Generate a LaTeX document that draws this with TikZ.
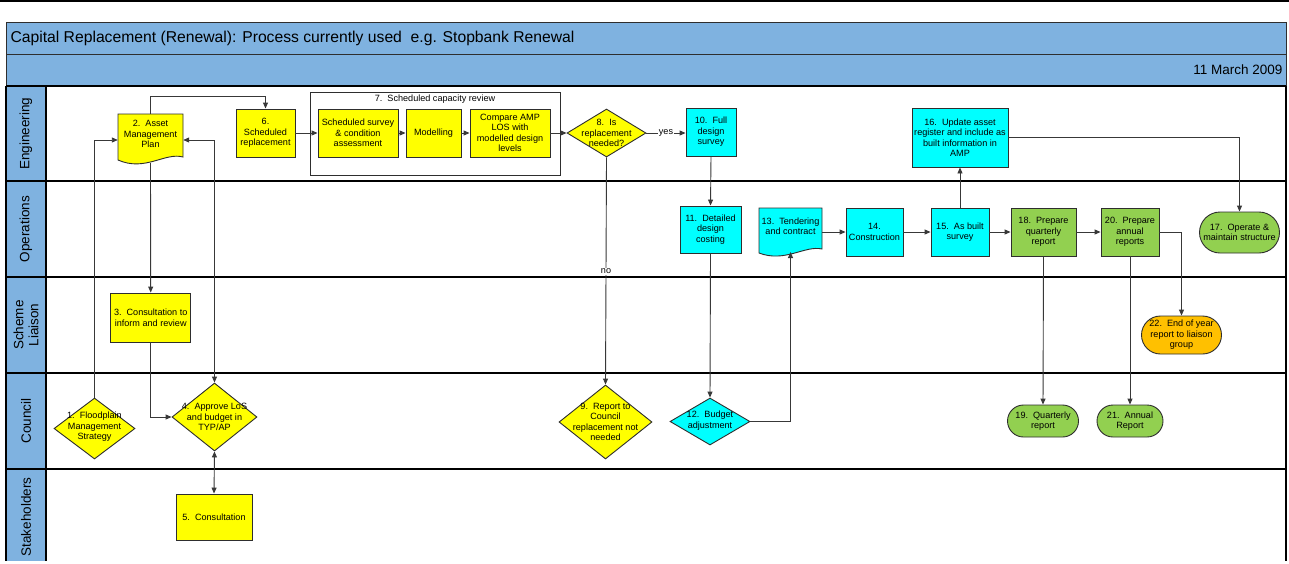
\documentclass[tikz,border=0pt]{standalone}
\usepackage{fontspec}
\setmainfont{Liberation Sans}
\usetikzlibrary{shapes.geometric,shapes.misc,arrows.meta}
\definecolor{band}{HTML}{7FB2E0}
\definecolor{yel}{HTML}{FFFF00}
\definecolor{cya}{HTML}{00FFFF}
\definecolor{grn}{HTML}{92D050}
\definecolor{org}{HTML}{FFC000}
\definecolor{edgec}{HTML}{2E2E2E}
\definecolor{linkc}{HTML}{383838}
\tikzset{
  x=1pt, y=-1pt,
  >={Triangle[length=6pt,width=5pt]},
  nodefont/.style={font=\fontsize{9.1}{10.5}\selectfont},
  box/.style={rectangle, draw=edgec, line width=0.9pt, inner sep=0.5pt, align=center, nodefont},
  ybox/.style={box, fill=yel},
  cbox/.style={box, fill=cya},
  gbox/.style={box, fill=grn},
  stad/.style={rounded rectangle, draw=edgec, line width=0.9pt, inner sep=0.5pt, align=center, nodefont},
  dia/.style={diamond, draw=edgec, line width=0.9pt, inner sep=0pt},
  dtext/.style={nodefont, align=center},
  docpath/.style={draw=edgec, line width=0.9pt},
  txtnode/.style={inner sep=0pt, align=center, nodefont},
  link/.style={draw=linkc, line width=0.9pt, ->},
  lanelabel/.style={rotate=90, font=\fontsize{13.5}{15}\selectfont, align=center},
  laneline/.style={draw=black, line width=1.1pt},
  bandbox/.style={fill=band, draw=edgec, line width=1pt},
  lbl/.style={fill=white, inner sep=1pt, nodefont}
}
\begin{document}
\begin{tikzpicture}
\useasboundingbox (0,0) rectangle (1289,563);
\fill[white] (0,0) rectangle (1289,563);
\draw[line width=1.5pt] (0,0.75) -- (1289,0.75);
% bands
\draw[bandbox] (6,22) rectangle (1286,54);
\draw[bandbox] (6,54) rectangle (1286,86);
\node[anchor=west, font=\fontsize{15.7}{17}\selectfont] (title) at (7,38) {Capital Replacement (Renewal): Process currently used~~e.g. Stopbank Renewal};
\node[anchor=east, font=\fontsize{13.5}{15}\selectfont] (date) at (1286,70) {11 March 2009};
% lane label column
\fill[band] (6,86) rectangle (46,561);
\draw[laneline] (6,86) -- (1286,86);
\draw[laneline] (6,181) -- (1286,181);
\draw[laneline] (6,277) -- (1286,277);
\draw[laneline] (6,373) -- (1286,373);
\draw[laneline] (6,469) -- (1286,469);
\draw[laneline] (6,86) -- (6,561);
\draw[laneline] (46,86) -- (46,561);
\draw[laneline] (1286,86) -- (1286,561);
\node[lanelabel] (l1) at (26,133.5) {Engineering};
\node[lanelabel] (l2) at (26,229) {Operations};
\node[lanelabel] (l3) at (26,325) {Scheme\\Liaison};
\node[lanelabel] (l4) at (26,421) {Council};
\node[lanelabel] (l5) at (26,517) {Stakeholders};
% container 7
\draw[draw=edgec, line width=0.9pt] (310,92) rectangle (560,175);
\node[txtnode] (n7) at (435,99.5) {7.~~Scheduled capacity review};
% document shapes
\filldraw[fill=yel, docpath] (118,114) -- (183,114) -- (183,157) .. controls (165,152) and (145,172) .. (118,160) -- cycle;
\node[txtnode, minimum width=65pt, minimum height=40pt] (n2) at (150.5,134) {2.~~Asset\\Management\\Plan};
\coordinate (n2b) at (150.5,163);
\filldraw[fill=cya, docpath] (759,208) -- (822,208) -- (822,249) .. controls (805,245) and (785,263) .. (759,253) -- cycle;
\node[txtnode, minimum width=63pt, minimum height=30pt] (n13) at (790.5,226) {13.~~Tendering\\and contract};
\coordinate (n13b) at (790.5,252);
% engineering
\node[ybox, minimum width=59pt, minimum height=48pt] (n6) at (265.5,133) {6.\\Scheduled\\replacement};
\node[ybox, minimum width=80pt, minimum height=48pt] (n7a) at (358,133) {Scheduled survey\\\& condition\\assessment};
\node[ybox, minimum width=55pt, minimum height=48pt] (n7b) at (433.5,133) {Modelling};
\node[ybox, minimum width=80pt, minimum height=48pt] (n7c) at (510,133) {Compare AMP\\LOS with\\modelled design\\levels};
\node[dia, fill=yel, minimum width=79pt, minimum height=48pt, label={[dtext]center:8.~~Is\\replacement\\needed?}] (n8) at (606.5,133) {};
\node[cbox, minimum width=50pt, minimum height=48pt] (n10) at (711,132) {10.~~Full\\design\\survey};
\node[cbox, minimum width=96pt, minimum height=59pt] (n16) at (960,137.5) {16.~~Update asset\\register and include as\\built information in\\AMP};
% operations
\node[cbox, minimum width=61pt, minimum height=47pt] (n11) at (710.5,229.5) {11.~~Detailed\\design\\costing};
\node[cbox, minimum width=57pt, minimum height=48pt] (n14) at (874.5,232) {14.\\Construction};
\node[cbox, minimum width=58pt, minimum height=48pt] (n15) at (960,232) {15.~~As built\\survey};
\node[gbox, minimum width=65pt, minimum height=48pt] (n18) at (1043.5,232) {18.~~Prepare\\quarterly\\report};
\node[gbox, minimum width=58pt, minimum height=48pt] (n20) at (1130,232) {20.~~Prepare\\annual\\reports};
\node[stad, fill=grn, minimum width=81pt, minimum height=41pt] (n17) at (1239.5,232.5) {17.~~Operate \&\\maintain structure};
% scheme liaison
\node[ybox, minimum width=80pt, minimum height=49pt] (n3) at (150.7,317.5) {3.~~Consultation to\\inform and review};
\node[stad, fill=org, minimum width=81pt, minimum height=38pt] (n22) at (1181.5,335) {22.~~End of year\\report to liaison\\group};
% council
\node[dia, fill=yel, minimum width=81pt, minimum height=61pt, label={[dtext,yshift=1.5pt]center:1.~~Floodplain\\Management\\Strategy}] (n1) at (94.5,428.5) {};
\node[dia, fill=yel, minimum width=85pt, minimum height=68pt, label={[dtext]center:4.~~Approve LoS\\and budget in\\TYP/AP}] (n4) at (214.5,417) {};
\node[dia, fill=yel, minimum width=93pt, minimum height=74pt, label={[dtext]center:9.~~Report to\\Council\\replacement not\\needed}] (n9) at (605.5,422) {};
\node[dia, fill=cya, minimum width=80pt, minimum height=47pt, label={[dtext,yshift=1pt]center:12.~~Budget\\adjustment}] (n12) at (710,421.5) {};
\node[stad, fill=grn, minimum width=72pt, minimum height=32pt] (n19) at (1043,421) {19.~~Quarterly\\report};
\node[stad, fill=grn, minimum width=67pt, minimum height=32pt] (n21) at (1130,421) {21.~~Annual\\Report};
% stakeholders
\node[ybox, minimum width=76pt, minimum height=46pt] (n5) at (214,517) {5.~~Consultation};
% connectors
\draw[link] (n1.north) |- ([yshift=-6pt]n2.west);
\draw[link, <->] ([yshift=-6pt]n2.east) -| (n4.north);
\draw[link] (n2b) -- (n3.north);
\draw[link] (n2.north) -- ++(0,-17) -| (n6.north);
\draw[link] (n3.south) |- (n4.west);
\draw[link, <->] (n4.south) -- (n5.north);
\draw[link] (n6.east) -- (n7a.west);
\draw[link] (n7a.east) -- (n7b.west);
\draw[link] (n7b.east) -- (n7c.west);
\draw[link] (n7c.east) -- (n8.west);
\draw[link] (n8.east) -- node[lbl] {yes} (n10.west |- n8.east);
\draw[link] (n8.south) -- node[lbl, pos=0.5] {no} (n9.north);
\draw[link] (n10.south) -- (n11.north);
\draw[link] (n11.south) -- (n12.north);
\draw[link] (n12.east) -| (n13b);
\draw[link] (n13.east |- n14.west) -- (n14.west);
\draw[link] (n14.east) -- (n15.west);
\draw[link] (n15.east) -- (n18.west);
\draw[link] (n18.east) -- (n20.west);
\draw[link] (n15.north) -- (n16.south);
\draw[link] (n16.east) -| (n17.north);
\draw[link] (n18.south) -- (n19.north);
\draw[link] (n20.south) -- (n21.north);
\draw[link] (n20.east) -| (n22.north);
\end{tikzpicture}
\end{document}
